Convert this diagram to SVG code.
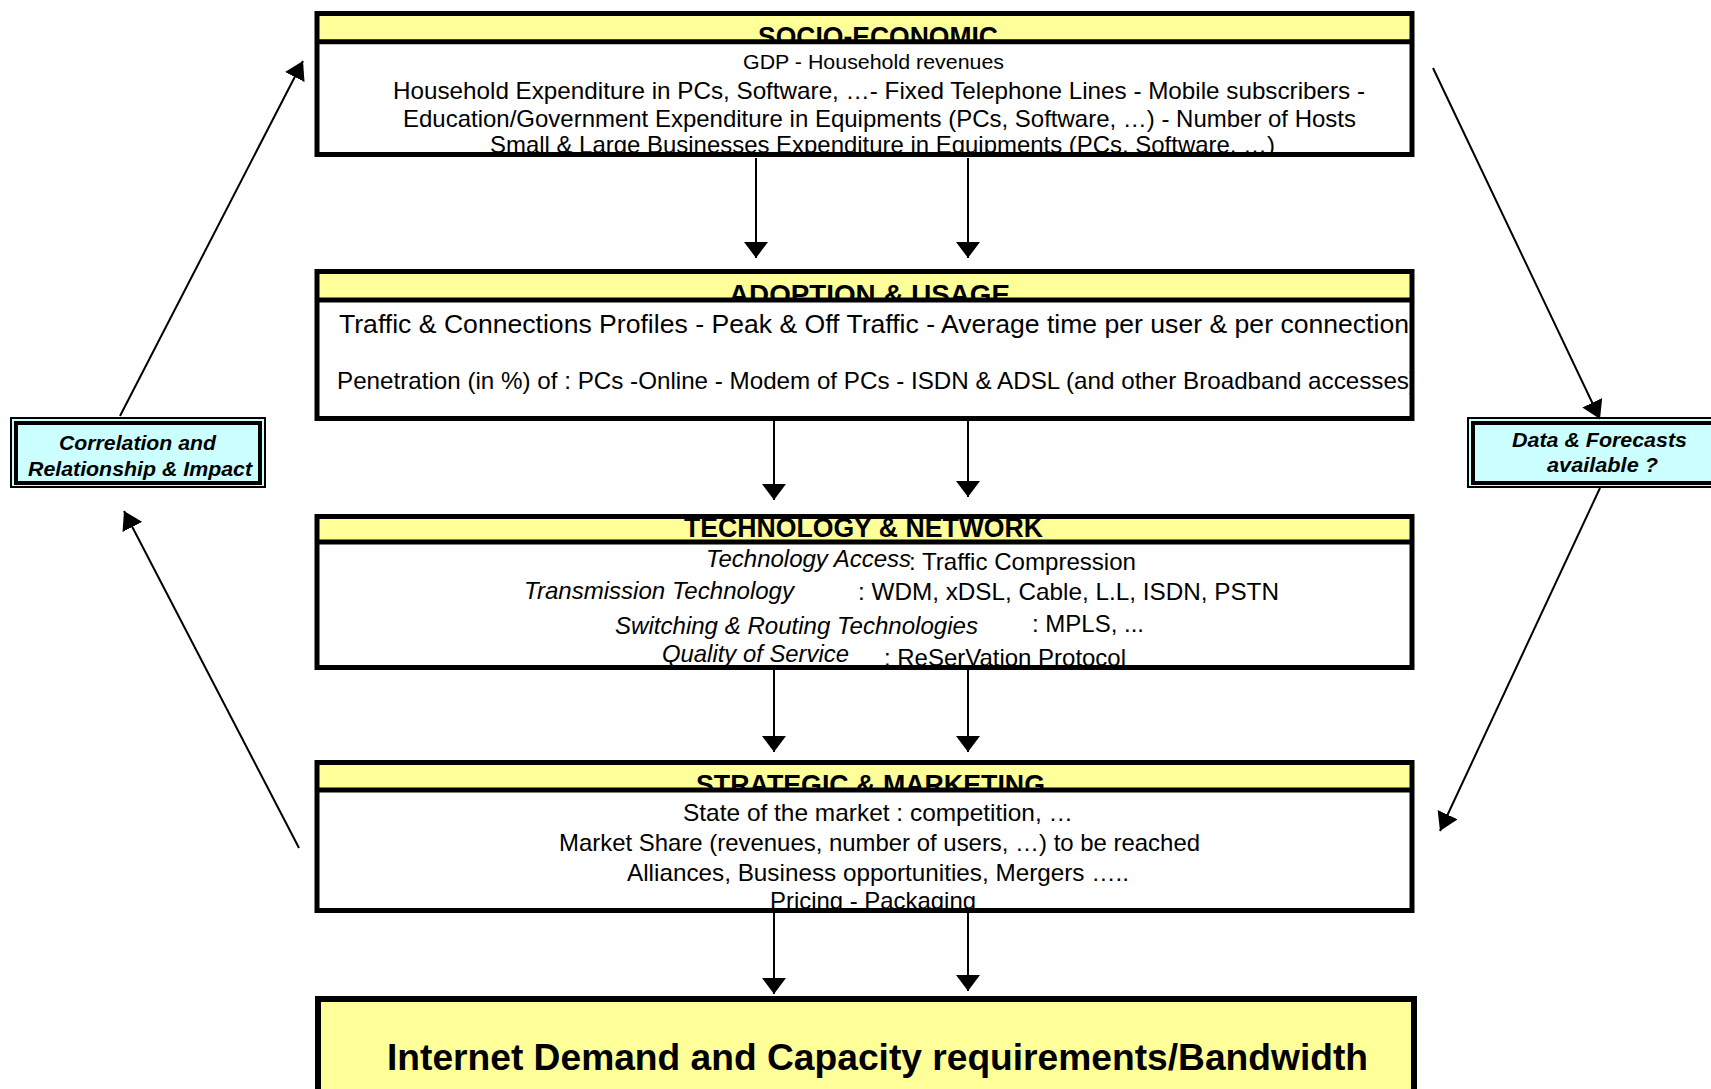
<svg xmlns="http://www.w3.org/2000/svg" width="1711" height="1089" viewBox="0 0 1711 1089">
<style>
text{font-family:"Liberation Sans",Arial,sans-serif;fill:#000}
.title{font-size:27px;font-weight:bold}
.body{font-size:24px}
.it{font-style:italic}
.side{font-size:21px;font-weight:bold;font-style:italic}
.frame{fill:none;stroke:#000;stroke-width:5}
.sep{stroke:#000;stroke-width:5}
.hdr{fill:#ffff99}
.conn line{stroke:#000;stroke-width:2}
.diag line{stroke:#000;stroke-width:2}
</style>
<defs>
<marker id="ah" viewBox="0 0 16 24" refX="16" refY="12" markerWidth="16" markerHeight="24" markerUnits="userSpaceOnUse" orient="auto">
<path d="M0,0 L16,12 L0,24 z" fill="#000"/>
</marker>
<marker id="ahd" viewBox="0 0 18 22" refX="18" refY="11" markerWidth="18" markerHeight="22" markerUnits="userSpaceOnUse" orient="auto">
<path d="M0,0 L18,11 L0,22 z" fill="#000"/>
</marker>
<clipPath id="h1"><rect x="317" y="14" width="1095" height="27"/></clipPath>
<clipPath id="b1"><rect x="317" y="42" width="1095" height="112"/></clipPath>
<clipPath id="h2"><rect x="317" y="272" width="1095" height="28"/></clipPath>
<clipPath id="b2"><rect x="317" y="300" width="1095" height="118"/></clipPath>
<clipPath id="h4"><rect x="317" y="763" width="1095" height="27"/></clipPath>
<clipPath id="b4"><rect x="317" y="790" width="1095" height="120"/></clipPath>
</defs>
<rect width="1711" height="1089" fill="#fff"/>

<g id="socio-economic">
<rect class="hdr" x="317" y="14" width="1095" height="28"/>
<text class="title" x="758" y="46" textLength="240" lengthAdjust="spacingAndGlyphs" clip-path="url(#h1)">SOCIO-ECONOMIC</text>
<g clip-path="url(#b1)">
<text x="743" y="69" font-size="21" textLength="261" lengthAdjust="spacingAndGlyphs">GDP - Household revenues</text>
<text class="body" x="393" y="99" textLength="972" lengthAdjust="spacingAndGlyphs">Household Expenditure in  PCs, Software, …- Fixed Telephone Lines - Mobile subscribers -</text>
<text class="body" x="403" y="127" textLength="953" lengthAdjust="spacingAndGlyphs">Education/Government Expenditure in Equipments (PCs, Software, …) - Number of Hosts</text>
<text class="body" x="490" y="153" textLength="785" lengthAdjust="spacingAndGlyphs">Small &amp; Large Businesses Expenditure in Equipments (PCs, Software, …)</text>
</g>
<line class="sep" x1="317" y1="41.8" x2="1412" y2="41.8"/>
<rect class="frame" x="317" y="13.5" width="1095" height="141"/>
</g>

<g id="adoption-usage">
<rect class="hdr" x="317" y="272" width="1095" height="28"/>
<text class="title" x="729" y="304" textLength="281" lengthAdjust="spacingAndGlyphs" clip-path="url(#h2)">ADOPTION  &amp;  USAGE</text>
<g clip-path="url(#b2)">
<text x="339" y="333" font-size="26" textLength="1070" lengthAdjust="spacingAndGlyphs">Traffic &amp; Connections Profiles - Peak &amp; Off Traffic - Average time per user &amp; per connection</text>
<text x="337" y="389" font-size="24" textLength="1080" lengthAdjust="spacingAndGlyphs">Penetration  (in %) of : PCs -Online - Modem of PCs - ISDN &amp; ADSL (and other Broadband accesses)</text>
</g>
<line class="sep" x1="317" y1="300" x2="1412" y2="300"/>
<rect class="frame" x="317" y="271.5" width="1095" height="147"/>
</g>

<g id="technology-network">
<rect class="hdr" x="317" y="517" width="1095" height="25"/>
<text class="title" x="684" y="537" font-size="25" textLength="359" lengthAdjust="spacingAndGlyphs">TECHNOLOGY &amp; NETWORK</text>
<text class="body it" x="706" y="567" textLength="205" lengthAdjust="spacingAndGlyphs">Technology Access</text>
<text class="body" x="909" y="570" textLength="227" lengthAdjust="spacingAndGlyphs">: Traffic Compression</text>
<text class="body it" x="524" y="599" textLength="270" lengthAdjust="spacingAndGlyphs">Transmission Technology</text>
<text class="body" x="858" y="600" textLength="421" lengthAdjust="spacingAndGlyphs">:  WDM, xDSL, Cable, L.L, ISDN, PSTN</text>
<text class="body it" x="615" y="634" textLength="363" lengthAdjust="spacingAndGlyphs">Switching &amp; Routing Technologies</text>
<text class="body" x="1032" y="632" textLength="112" lengthAdjust="spacingAndGlyphs">: MPLS, ...</text>
<text class="body it" x="662" y="662" textLength="187" lengthAdjust="spacingAndGlyphs">Quality of Service</text>
<text class="body" x="884" y="666" textLength="242" lengthAdjust="spacingAndGlyphs">: ReSerVation Protocol</text>
<line class="sep" x1="317" y1="542" x2="1412" y2="542"/>
<rect class="frame" x="317" y="516.5" width="1095" height="151"/>
</g>

<g id="strategic-marketing">
<rect class="hdr" x="317" y="763" width="1095" height="27"/>
<text class="title" x="696" y="794" textLength="349" lengthAdjust="spacingAndGlyphs" clip-path="url(#h4)">STRATEGIC &amp; MARKETING</text>
<g clip-path="url(#b4)">
<text class="body" x="683" y="821" textLength="390" lengthAdjust="spacingAndGlyphs">State of the market : competition,  …</text>
<text class="body" x="559" y="851" textLength="641" lengthAdjust="spacingAndGlyphs">Market Share (revenues, number of users, …) to be reached</text>
<text class="body" x="627" y="881" textLength="502" lengthAdjust="spacingAndGlyphs">Alliances, Business opportunities, Mergers  …..</text>
<text class="body" x="770" y="909" textLength="206" lengthAdjust="spacingAndGlyphs">Pricing - Packaging</text>
</g>
<line class="sep" x1="317" y1="790" x2="1412" y2="790"/>
<rect class="frame" x="317" y="762.5" width="1095" height="148"/>
</g>

<g id="internet-demand">
<rect x="318" y="999" width="1096" height="120" fill="#ffff99" stroke="#000" stroke-width="6"/>
<text x="387" y="1070" font-size="37" font-weight="bold" textLength="981" lengthAdjust="spacingAndGlyphs">Internet Demand and Capacity requirements/Bandwidth</text>
</g>

<g id="correlation">
<rect x="11" y="418" width="254" height="69" fill="#ccffff" stroke="#000" stroke-width="2"/>
<rect x="16" y="423" width="244" height="60" fill="none" stroke="#000" stroke-width="4"/>
<text class="side" x="59" y="450" textLength="157" lengthAdjust="spacingAndGlyphs">Correlation and</text>
<text class="side" x="28" y="476" textLength="224" lengthAdjust="spacingAndGlyphs">Relationship &amp; Impact</text>
</g>

<g id="data-forecasts">
<rect x="1468" y="418" width="260" height="69" fill="#ccffff" stroke="#000" stroke-width="2"/>
<rect x="1473" y="423" width="250" height="60" fill="none" stroke="#000" stroke-width="4"/>
<text class="side" x="1512" y="447" textLength="175" lengthAdjust="spacingAndGlyphs">Data &amp; Forecasts</text>
<text class="side" x="1547" y="472" textLength="111" lengthAdjust="spacingAndGlyphs">available ?</text>
</g>

<g id="connectors">
<g class="conn">
<line x1="756" y1="158" x2="756" y2="258" marker-end="url(#ah)"/>
<line x1="968" y1="158" x2="968" y2="258" marker-end="url(#ah)"/>
<line x1="774" y1="421" x2="774" y2="500" marker-end="url(#ah)"/>
<line x1="968" y1="421" x2="968" y2="497" marker-end="url(#ah)"/>
<line x1="774" y1="670" x2="774" y2="752" marker-end="url(#ah)"/>
<line x1="968" y1="670" x2="968" y2="752" marker-end="url(#ah)"/>
<line x1="774" y1="913" x2="774" y2="994" marker-end="url(#ah)"/>
<line x1="968" y1="913" x2="968" y2="991" marker-end="url(#ah)"/>
</g>
<g class="diag">
<line x1="120" y1="416" x2="303" y2="61" marker-end="url(#ahd)"/>
<line x1="299" y1="848" x2="124" y2="511" marker-end="url(#ahd)"/>
<line x1="1433" y1="68" x2="1600" y2="419" marker-end="url(#ahd)"/>
<line x1="1600" y1="488" x2="1440" y2="831" marker-end="url(#ahd)"/>
</g>
</g>
</svg>
